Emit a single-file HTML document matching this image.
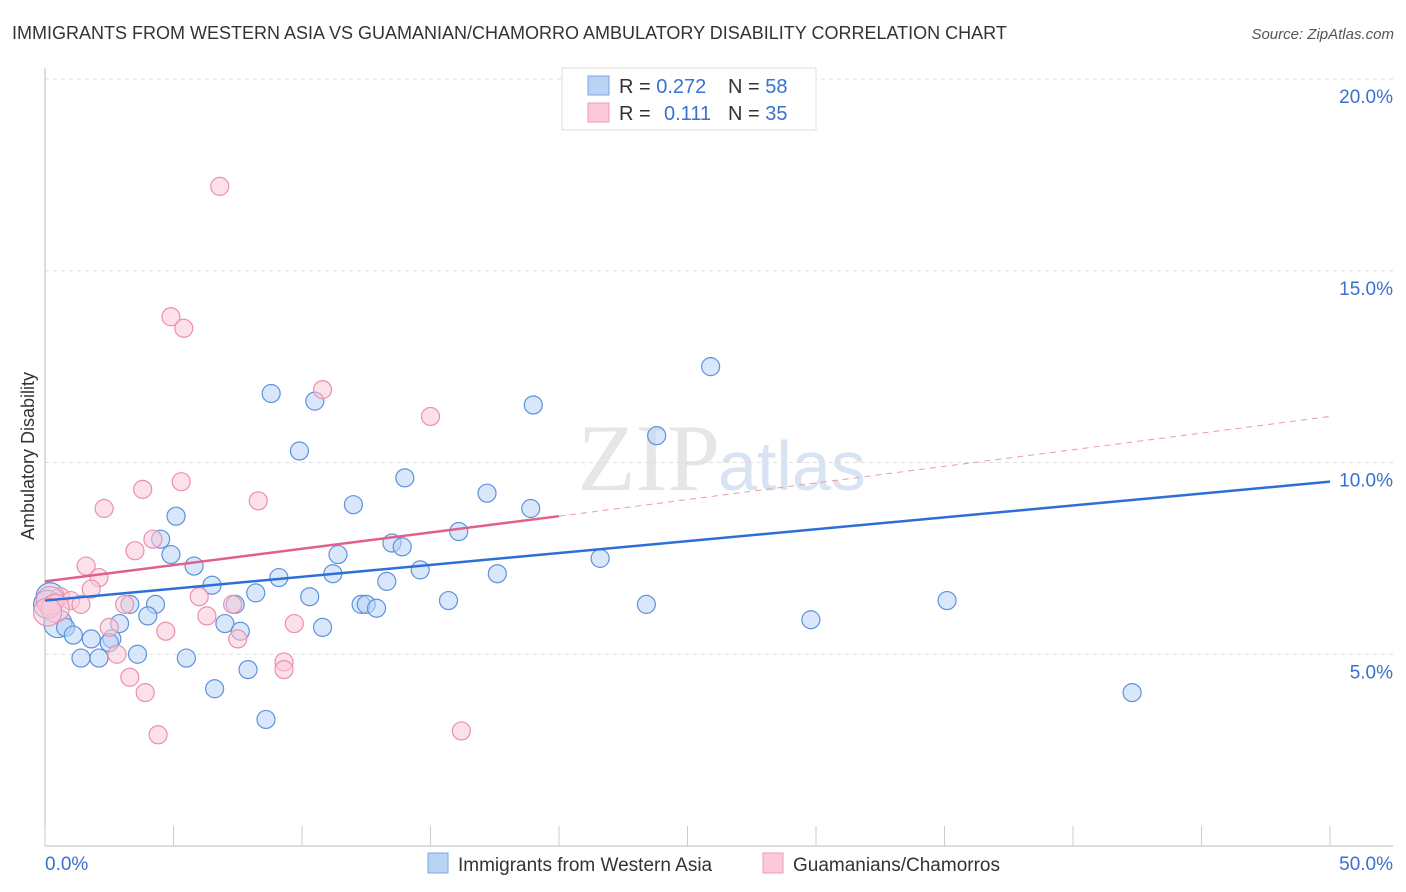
<!DOCTYPE html>
<html><head><meta charset="utf-8"><style>
body{margin:0;background:#fff;font-family:"Liberation Sans",sans-serif;}
svg{display:block}
</style></head><body>
<svg id="c" width="1406" height="892">
<text x="12" y="39" font-size="18" fill="#333">IMMIGRANTS FROM WESTERN ASIA VS GUAMANIAN/CHAMORRO AMBULATORY DISABILITY CORRELATION CHART</text>
<text x="1394" y="39" font-size="15" fill="#555" font-style="italic" text-anchor="end">Source: ZipAtlas.com</text>
<text x="720" y="490" font-size="95" fill="#e6e6e6" text-anchor="end" font-family="Liberation Serif">ZIP</text>
<text x="718" y="490" font-size="70" fill="#d8e4f2">atlas</text>
<text transform="translate(34,456) rotate(-90)" font-size="18" fill="#333" text-anchor="middle">Ambulatory Disability</text>
<g id="grid"></g><g id="marks"></g>
<g>
<rect x="562" y="68" width="254" height="62" fill="#fff" stroke="#ddd"/>
<rect x="588" y="76" width="21" height="19" fill="#b8d3f5" stroke="#7aa6e0"/>
<rect x="588" y="103" width="21" height="19" fill="#fcc9d8" stroke="#f09ab4"/>
<text x="619" y="93" font-size="20" fill="#333">R = <tspan fill="#3a70d0">0.272</tspan><tspan x="728">N = </tspan><tspan fill="#3a70d0">58</tspan></text>
<text x="619" y="120" font-size="20" fill="#333">R = <tspan x="664" fill="#3a70d0">0.111</tspan><tspan x="728">N = </tspan><tspan fill="#3a70d0">35</tspan></text>
</g>
<g>
<rect x="428" y="853" width="20" height="20" fill="#b8d3f5" stroke="#7aa6e0"/>
<text x="458" y="871" font-size="19" fill="#333">Immigrants from Western Asia</text>
<rect x="763" y="853" width="20" height="20" fill="#fcc9d8" stroke="#f09ab4"/>
<text x="793" y="871" font-size="19" fill="#333">Guamanians/Chamorros</text>
</g>
<text x="45" y="870" font-size="19" fill="#3a70d0">0.0%</text>
<text x="1393" y="870" font-size="19" fill="#3a70d0" text-anchor="end">50.0%</text>
</svg>
<script>
const yTicks=[5,10,15,20];
const blueX=[8.8,10.5,9.9,19.0,25.9,23.8,14.0,17.2,12.0,18.9,5.1,4.5,4.9,13.5,13.9,11.4,16.1,21.6,5.8,9.1,11.2,14.6,17.6,13.3,6.5,8.2,7.4,10.3,15.7,12.3,12.5,12.9,4.3,3.3,4.0,23.4,35.1,29.8,2.9,7.0,7.6,10.8,0.5,0.8,1.1,1.8,2.6,2.5,3.6,1.4,2.1,5.5,7.9,6.6,8.6,42.3,0.2,0.1];
const blueY=[11.8,11.6,10.3,11.5,12.5,10.7,9.6,9.2,8.9,8.8,8.6,8.0,7.6,7.9,7.8,7.6,8.2,7.5,7.3,7.0,7.1,7.2,7.1,6.9,6.8,6.6,6.3,6.5,6.4,6.3,6.3,6.2,6.3,6.3,6.0,6.3,6.4,5.9,5.8,5.8,5.6,5.7,5.8,5.7,5.5,5.4,5.4,5.3,5.0,4.9,4.9,4.9,4.6,4.1,3.3,4.0,6.5,6.3];
const pinkX=[6.8,4.9,5.4,10.8,15.0,2.3,3.8,5.3,8.3,4.2,3.5,1.6,2.1,1.8,6.0,0.6,1.0,1.4,0.2,0.4,3.1,7.3,6.3,2.5,4.7,9.7,7.5,2.8,9.3,9.3,3.3,3.9,4.4,16.2,0.1];
const pinkY=[17.2,13.8,13.5,11.9,11.2,8.8,9.3,9.5,9.0,8.0,7.7,7.3,7.0,6.7,6.5,6.5,6.4,6.3,6.4,6.2,6.3,6.3,6.0,5.7,5.6,5.8,5.4,5.0,4.8,4.6,4.4,4.0,2.9,3.0,6.1];
const blueTrend=[6.4,9.5], pinkTrend=[6.9,8.6,11.2];
const NS="http://www.w3.org/2000/svg";
const X=v=>45+v*25.7, Y=v=>846-v*38.35;
function mk(t,a,p){const e=document.createElementNS(NS,t);for(const k in a)e.setAttribute(k,a[k]);p.appendChild(e);return e;}
const grid=document.getElementById('grid'),marks=document.getElementById('marks');
yTicks.forEach(t=>{
 const l=mk('line',{x1:45,x2:1393,y1:Y(t),y2:Y(t),stroke:'#ddd','stroke-dasharray':'4,4'},grid);
 
 
 const tx=mk('text',{x:1393,y:Y(t)+24,'font-size':19,fill:'#3a70d0','text-anchor':'end'},grid);
 tx.textContent=t.toFixed(1)+'%';
 
 
});
mk('line',{x1:45,x2:45,y1:68,y2:846,stroke:'#bbb'},grid);
mk('line',{x1:45,x2:1393,y1:846,y2:846,stroke:'#bbb'},grid);
for(let i=0;i<=10;i++){mk('line',{x1:X(i*5),x2:X(i*5),y1:826,y2:846,stroke:'#ccc'},grid);}
function pts(xs,ys,fill,stroke,name){xs.forEach((x,i)=>{
 const c=mk('circle',{cx:X(x),cy:Y(ys[i]),r:(x<0.6?14:9),fill:fill,'fill-opacity':0.55,stroke:stroke,'stroke-width':1.2},marks);
 
 
});}
pts(blueX,blueY,'#b8d3f5','#5d92dc','blue-point');
pts(pinkX,pinkY,'#fcc9d8','#ec8fac','pink-point');
let l=mk('line',{x1:X(0),y1:Y(blueTrend[0]),x2:X(50),y2:Y(blueTrend[1]),stroke:'#2c6fd6','stroke-width':2.5},marks);


l=mk('line',{x1:X(0),y1:Y(pinkTrend[0]),x2:X(20),y2:Y(pinkTrend[1]),stroke:'#e0608a','stroke-width':2.5},marks);


l=mk('line',{x1:X(20),y1:Y(pinkTrend[1]),x2:X(50),y2:Y(pinkTrend[2]),stroke:'#e898b2','stroke-width':1,'stroke-dasharray':'6,5'},marks);


</script>
</body></html>
